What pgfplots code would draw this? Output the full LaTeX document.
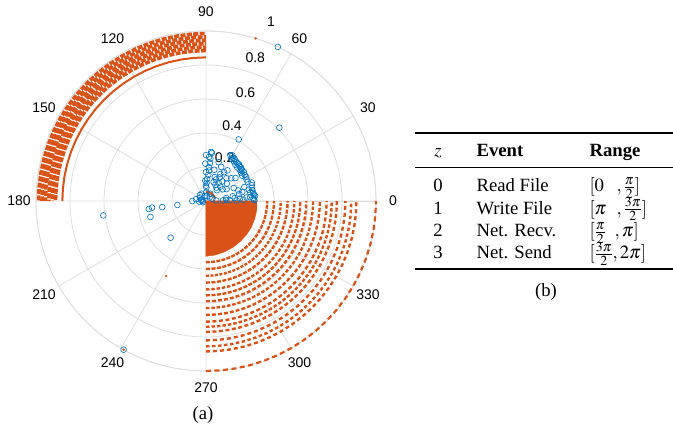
\documentclass[border=0pt]{standalone}
\usepackage{mathptmx}
\usepackage{fontspec}
\setmainfont{Liberation Serif}
\setsansfont{Liberation Sans}
\usepackage{pgfplots}
\pgfplotsset{compat=1.18}
\usepackage{pgfplotstable}
\usepgfplotslibrary{polar}
\definecolor{mOrange}{RGB}{217,83,25}
\definecolor{mBlue}{RGB}{0,114,189}
\definecolor{gridgray}{RGB}{222,222,222}
\newcommand\tabfont{\fontsize{18.7}{22.4}\selectfont}
\newcommand\tickfont{\fontsize{14}{16}\sffamily}

% Net. Send arcs (quadrant 4)
\pgfplotstableread{
a   r1   r2   r3   r4   r5   r6    r7   r8   r9   r10  r11  r12  r13  r14   r15   r16
270 0.36 0.40 0.44 0.48 0.52 0.555 0.59 0.63 0.67 0.71 0.74 0.77 0.82 0.855 0.885 1.00
275 0.36 0.40 0.44 0.48 0.52 0.555 0.59 0.63 0.67 0.71 0.74 0.77 0.82 0.855 0.885 1.00
280 0.36 0.40 0.44 0.48 0.52 0.555 0.59 0.63 0.67 0.71 0.74 0.77 0.82 0.855 0.885 1.00
285 0.36 0.40 0.44 0.48 0.52 0.555 0.59 0.63 0.67 0.71 0.74 0.77 0.82 0.855 0.885 1.00
290 0.36 0.40 0.44 0.48 0.52 0.555 0.59 0.63 0.67 0.71 0.74 0.77 0.82 0.855 0.885 1.00
295 0.36 0.40 0.44 0.48 0.52 0.555 0.59 0.63 0.67 0.71 0.74 0.77 0.82 0.855 0.885 1.00
300 0.36 0.40 0.44 0.48 0.52 0.555 0.59 0.63 0.67 0.71 0.74 0.77 0.82 0.855 0.885 1.00
305 0.36 0.40 0.44 0.48 0.52 0.555 0.59 0.63 0.67 0.71 0.74 0.77 0.82 0.855 0.885 1.00
310 0.36 0.40 0.44 0.48 0.52 0.555 0.59 0.63 0.67 0.71 0.74 0.77 0.82 0.855 0.885 1.00
315 0.36 0.40 0.44 0.48 0.52 0.555 0.59 0.63 0.67 0.71 0.74 0.77 0.82 0.855 0.885 1.00
320 0.36 0.40 0.44 0.48 0.52 0.555 0.59 0.63 0.67 0.71 0.74 0.77 0.82 0.855 0.885 1.00
325 0.36 0.40 0.44 0.48 0.52 0.555 0.59 0.63 0.67 0.71 0.74 0.77 0.82 0.855 0.885 1.00
330 0.36 0.40 0.44 0.48 0.52 0.555 0.59 0.63 0.67 0.71 0.74 0.77 0.82 0.855 0.885 1.00
335 0.36 0.40 0.44 0.48 0.52 0.555 0.59 0.63 0.67 0.71 0.74 0.77 0.82 0.855 0.885 1.00
340 0.36 0.40 0.44 0.48 0.52 0.555 0.59 0.63 0.67 0.71 0.74 0.77 0.82 0.855 0.885 1.00
345 0.36 0.40 0.44 0.48 0.52 0.555 0.59 0.63 0.67 0.71 0.74 0.77 0.82 0.855 0.885 1.00
350 0.36 0.40 0.44 0.48 0.52 0.555 0.59 0.63 0.67 0.71 0.74 0.77 0.82 0.855 0.885 1.00
355 0.36 0.40 0.44 0.48 0.52 0.555 0.59 0.63 0.67 0.71 0.74 0.77 0.82 0.855 0.885 1.00
360 0.36 0.40 0.44 0.48 0.52 0.555 0.59 0.63 0.67 0.71 0.74 0.77 0.82 0.855 0.885 1.00
}\qfour

% Net. Recv. arcs (quadrant 2)
\pgfplotstableread{
a   b1    b2    b3    b4    b5    b6    s
90  0.885 0.905 0.925 0.945 0.965 0.985 0.845
95  0.885 0.905 0.925 0.945 0.965 0.985 0.845
100 0.885 0.905 0.925 0.945 0.965 0.985 0.845
105 0.885 0.905 0.925 0.945 0.965 0.985 0.845
110 0.885 0.905 0.925 0.945 0.965 0.985 0.845
115 0.885 0.905 0.925 0.945 0.965 0.985 0.845
120 0.885 0.905 0.925 0.945 0.965 0.985 0.845
125 0.885 0.905 0.925 0.945 0.965 0.985 0.845
130 0.885 0.905 0.925 0.945 0.965 0.985 0.845
135 0.885 0.905 0.925 0.945 0.965 0.985 0.845
140 0.885 0.905 0.925 0.945 0.965 0.985 0.845
145 0.885 0.905 0.925 0.945 0.965 0.985 0.845
150 0.885 0.905 0.925 0.945 0.965 0.985 0.845
155 0.885 0.905 0.925 0.945 0.965 0.985 0.845
160 0.885 0.905 0.925 0.945 0.965 0.985 0.845
165 0.885 0.905 0.925 0.945 0.965 0.985 0.845
170 0.885 0.905 0.925 0.945 0.965 0.985 0.845
175 0.885 0.905 0.925 0.945 0.965 0.985 0.845
180 0.885 0.905 0.925 0.945 0.965 0.985 0.845
}\qtwo

% Read File events (blue circles)
\pgfplotstableread{
a r
84 0.29
83 0.285
86 0.26
84 0.25
84 0.225
85 0.20
84 0.18
85 0.155
87 0.13
88 0.106
88 0.08
89 0.05
90 0.27
91 0.22
90 0.17
92 0.12
90 0.09
62 0.305
60 0.31
58 0.30
56 0.30
54 0.295
52 0.29
50 0.29
48 0.29
46 0.285
44 0.285
42 0.28
40 0.28
37 0.28
34 0.275
31 0.275
28 0.27
25 0.27
59 0.29
55 0.285
51 0.275
47 0.27
43 0.27
39 0.265
35 0.26
70 0.15
65 0.14
60 0.16
55 0.13
50 0.15
45 0.12
40 0.16
62 0.18
58 0.20
68 0.12
52 0.10
35 0.12
30 0.14
48 0.18
42 0.20
38 0.22
55 0.22
66 0.22
75 0.19
72 0.24
60 0.11
45 0.09
22 0.29
19 0.285
16 0.28
13 0.28
10 0.28
8 0.285
6 0.29
4 0.28
2 0.28
1 0.285
15 0.26
11 0.265
5 0.26
3 0.06
2 0.10
2 0.14
1 0.18
2 0.22
3 0.12
4 0.20
6 0.17
8 0.12
10 0.16
12 0.20
14 0.22
18 0.20
20 0.24
25 0.18
5 0.24
45 0.03
80 0.03
100 0.03
150 0.04
170 0.03
120 0.05
60 0.05
20 0.04
135 0.05
170 0.06
185 0.04
175 0.02
200 0.02
160 0.025
188 0.61
188 0.34
187 0.32
196 0.34
188 0.26
188 0.17
180 0.08
226 0.30
241 1.00
45 0.61
65 1.00
62 0.41
}\blue

\begin{document}
\begin{tikzpicture}
\useasboundingbox (0pt,0pt) rectangle (673pt,426pt);
\begin{polaraxis}[
  at={(206pt,225pt)}, anchor=center,
  scale only axis, width=340pt, height=340pt,
  xmin=0, xmax=360, ymin=0, ymax=1,
  xtick={0,30,...,330}, ytick={0.2,0.4,0.6,0.8,1},
  xticklabel=\relax, yticklabel=\relax,
  major tick length=0pt,
  grid=major,
  major grid style={gridgray, line width=0.8pt},
  axis line style={gridgray, line width=0.8pt},
  clip=false,
]
% angular labels
\node[font=\tickfont] at (axis cs:0,1.1) {0};
\node[font=\tickfont] at (axis cs:30,1.1) {30};
\node[font=\tickfont] at (axis cs:60,1.1) {60};
\node[font=\tickfont] at (axis cs:90,1.115) {90};
\node[font=\tickfont] at (axis cs:120,1.1) {120};
\node[font=\tickfont] at (axis cs:150,1.1) {150};
\node[font=\tickfont] at (axis cs:180,1.1) {180};
\node[font=\tickfont] at (axis cs:210,1.1) {210};
\node[font=\tickfont] at (axis cs:240,1.1) {240};
\node[font=\tickfont] at (axis cs:270,1.1) {270};
\node[font=\tickfont] at (axis cs:300,1.1) {300};
\node[font=\tickfont] at (axis cs:330,1.1) {330};
% radial labels
\node[font=\tickfont] at (axis cs:70,1.12) {1};
\node[font=\tickfont] at (axis cs:71,0.89) {0.8};
\node[font=\tickfont] at (axis cs:70,0.68) {0.6};
\node[font=\tickfont] at (axis cs:71,0.47) {0.4};
\node[font=\tickfont] at (axis cs:67,0.28) {0.2};

% Net. Send: filled core + arcs
\addplot[fill=mOrange, draw=mOrange, line width=0.5pt] coordinates {
(270,0) (270,0.325) (280,0.322) (290,0.318) (300,0.315) (310,0.312) (320,0.31) (330,0.308) (340,0.305) (350,0.303) (360,0.30) (360,0)};
\addplot[mOrange, line width=2.4pt, dash pattern=on 4pt off 1.2pt] table[x=a,y=r1] {\qfour};
\addplot[mOrange, line width=2.4pt, dash pattern=on 4pt off 1.5pt] table[x=a,y=r2] {\qfour};
\addplot[mOrange, line width=2.4pt, dash pattern=on 3pt off 1.5pt] table[x=a,y=r3] {\qfour};
\addplot[mOrange, line width=2.4pt, dash pattern=on 4pt off 1.5pt] table[x=a,y=r4] {\qfour};
\addplot[mOrange, line width=2.4pt, dash pattern=on 3.5pt off 1.8pt] table[x=a,y=r5] {\qfour};
\addplot[mOrange, line width=2.4pt, dash pattern=on 4pt off 1.5pt] table[x=a,y=r6] {\qfour};
\addplot[mOrange, line width=2.4pt, dash pattern=on 4pt off 2pt] table[x=a,y=r7] {\qfour};
\addplot[mOrange, line width=2.4pt, dash pattern=on 3.5pt off 1.8pt] table[x=a,y=r8] {\qfour};
\addplot[mOrange, line width=2.4pt, dash pattern=on 4pt off 2pt] table[x=a,y=r9] {\qfour};
\addplot[mOrange, line width=2.4pt, dash pattern=on 4pt off 2.5pt] table[x=a,y=r10] {\qfour};
\addplot[mOrange, line width=2.4pt, dash pattern=on 3.5pt off 2pt] table[x=a,y=r11] {\qfour};
\addplot[mOrange, line width=2.4pt, dash pattern=on 4pt off 2.5pt] table[x=a,y=r12] {\qfour};
\addplot[mOrange, line width=2.4pt, dash pattern=on 4pt off 3pt] table[x=a,y=r13] {\qfour};
\addplot[mOrange, line width=2.4pt, dash pattern=on 3.5pt off 2.5pt] table[x=a,y=r14] {\qfour};
\addplot[mOrange, line width=2.4pt, dash pattern=on 4pt off 3pt] table[x=a,y=r15] {\qfour};
\addplot[mOrange, line width=2.2pt, dash pattern=on 5pt off 3.5pt] table[x=a,y=r16] {\qfour};

% Net. Recv.: band + solid arc
\addplot[mOrange, line width=3.6pt, dash pattern=on 5pt off 1.4pt] table[x=a,y=b1] {\qtwo};
\addplot[mOrange, line width=3.6pt, dash pattern=on 5pt off 1.4pt, dash phase=2pt] table[x=a,y=b2] {\qtwo};
\addplot[mOrange, line width=3.6pt, dash pattern=on 5pt off 1.4pt, dash phase=4pt] table[x=a,y=b3] {\qtwo};
\addplot[mOrange, line width=3.6pt, dash pattern=on 5pt off 1.4pt, dash phase=1pt] table[x=a,y=b4] {\qtwo};
\addplot[mOrange, line width=3.6pt, dash pattern=on 5pt off 1.4pt, dash phase=3pt] table[x=a,y=b5] {\qtwo};
\addplot[mOrange, line width=3.6pt, dash pattern=on 5pt off 1.4pt, dash phase=5pt] table[x=a,y=b6] {\qtwo};
\addplot[mOrange, line width=2pt] table[x=a,y=s] {\qtwo};

% small orange arc near centre and stray points
\addplot[mOrange, line width=2.2pt] coordinates {(90,0.055) (70,0.055) (50,0.055) (30,0.055) (15,0.055)};
\addplot[only marks, mark=*, mark size=1pt, mOrange] coordinates {(73,1.0) (242,0.5) (241,1.0)};

% Read File events
\addplot[only marks, mark=o, mark size=2.9pt, mBlue, line width=0.6pt] table[x=a,y=r] {\blue};
\end{polaraxis}

% captions
\node[anchor=base, font=\tabfont] at (203pt,6pt) {(a)};
\node[anchor=base, font=\tabfont] at (546pt,129pt) {(b)};

% table (b)
\draw[line width=1.8pt] (415pt,293pt) -- (673pt,293pt);
\draw[line width=1pt] (415pt,258pt) -- (673pt,258pt);
\draw[line width=1.8pt] (415pt,157pt) -- (673pt,157pt);
\node[anchor=base, font=\tabfont] at (438pt,269pt) {$z$};
\node[anchor=base west, font=\tabfont\bfseries] at (473pt,269pt) {Event};
\node[anchor=base west, font=\tabfont\bfseries] at (586pt,269pt) {Range};

\node[anchor=base, font=\tabfont] at (438pt,234pt) {0};
\node[anchor=base west, font=\tabfont] at (473pt,234pt) {Read File};
\node[anchor=base west, font=\tabfont] at (586pt,234pt) {\makebox[27pt][l]{$[0$}$,\frac{\pi}{2}]$};

\node[anchor=base, font=\tabfont] at (438pt,211.7pt) {1};
\node[anchor=base west, font=\tabfont] at (473pt,211.7pt) {Write File};
\node[anchor=base west, font=\tabfont] at (586pt,211.7pt) {\makebox[27pt][l]{$[\pi$}$,\frac{3\pi}{2}]$};

\node[anchor=base, font=\tabfont] at (438pt,189.4pt) {2};
\node[anchor=base west, font=\tabfont] at (473pt,189.4pt) {Net. Recv.};
\node[anchor=base west, font=\tabfont] at (586pt,189.4pt) {\makebox[23pt][l]{$[\frac{\pi}{2}$}$\,,\pi]$};

\node[anchor=base, font=\tabfont] at (438pt,167pt) {3};
\node[anchor=base west, font=\tabfont] at (473pt,167pt) {Net. Send};
\node[anchor=base west, font=\tabfont] at (586pt,167pt) {\makebox[23pt][l]{$[\frac{3\pi}{2}$}$,2\pi]$};
\end{tikzpicture}
\end{document}
